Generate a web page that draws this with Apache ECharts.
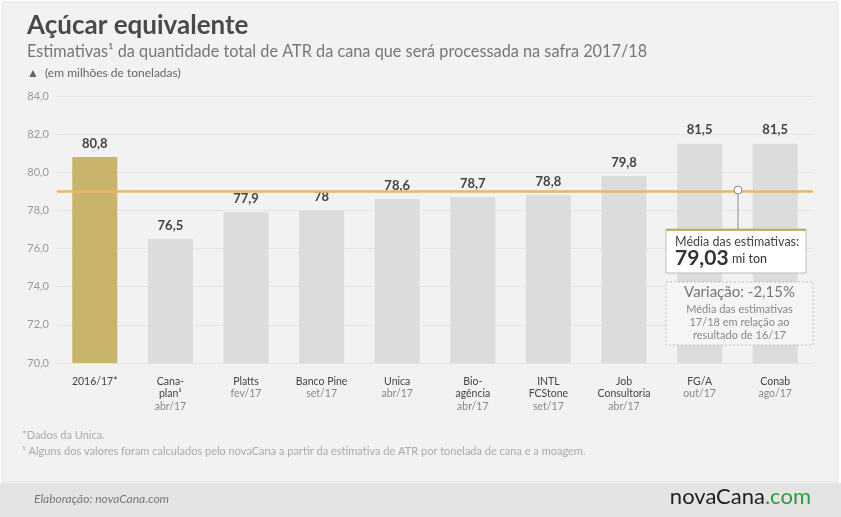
<!DOCTYPE html>
<html>
<head>
<meta charset="utf-8">
<script src="https://cdn.jsdelivr.net/npm/echarts@6/dist/echarts.min.js"></script>
<style>
html,body{margin:0;padding:0;background:#fff;}
#chart{width:841px;height:517px;}
</style>
</head>
<body>
<div id="chart"></div>
<script>
// dados
const nomes = ['2016/17*', 'Cana-\nplan¹', 'Platts', 'Banco Pine', 'Unica', 'Bio-\nagência', 'INTL\nFCStone', 'Job\nConsultoria', 'FG/A', 'Conab'];
const datas = ['', 'abr/17', 'fev/17', 'set/17', 'abr/17', 'abr/17', 'set/17', 'abr/17', 'out/17', 'ago/17'];
const valores = [80.8, 76.5, 77.9, 78, 78.6, 78.7, 78.8, 79.8, 81.5, 81.5];
const rotulos = ['80,8', '76,5', '77,9', '78', '78,6', '78,7', '78,8', '79,8', '81,5', '81,5'];
const media = 79.03;

const font = 'Lato, "Open Sans", sans-serif';
const categorias = nomes.map((n, i) => i);

let myChart = echarts.init(document.getElementById('chart'));
myChart.setOption({
  backgroundColor: '#fff',
  textStyle: {fontFamily: font},
  graphic: [
    {type: 'rect', z: -10, shape: {x: 2, y: 2, width: 836, height: 480}, style: {fill: '#f2f2f2', stroke: '#e2e2e2', lineWidth: 1}},
    {type: 'rect', z: -10, shape: {x: 0, y: 483, width: 841, height: 34}, style: {fill: '#e4e4e4'}},
    {type: 'text', left: 27, top: 13, style: {text: 'Açúcar equivalente', font: 'bold 26px ' + font, fill: '#4a4a4a'}},
    {type: 'text', left: 27, top: 44, style: {text: 'Estimativas¹ da quantidade total de ATR da cana que será processada na safra 2017/18', font: '16.3px ' + font, fill: '#777'}},
    {type: 'text', left: 27, top: 67, style: {text: '▲  (em milhões de toneladas)', font: '12px ' + font, fill: '#666'}},
    {type: 'text', left: 22, top: 430, style: {text: '*Dados da Unica.', font: '11px ' + font, fill: '#aaa'}},
    {type: 'text', left: 22, top: 446, style: {text: '¹ Alguns dos valores foram calculados pelo novaCana a partir da estimativa de ATR por tonelada de cana e a moagem.', font: '11px ' + font, fill: '#aaa'}},
    {type: 'text', left: 34, top: 493, style: {text: 'Elaboração: novaCana.com', font: 'italic 12px ' + font, fill: '#777'}},
    {type: 'text', right: 30, top: 486, style: {rich: {a: {fontSize: 22, fill: '#222', fontFamily: font}, b: {fontSize: 22, fill: '#2a9d3a', fontFamily: font}}, text: '{a|novaCana}{b|.com}'}},
    // anotação da média
    {type: 'line', z: 20, shape: {x1: 738, y1: 192, x2: 738, y2: 229}, style: {stroke: '#888', lineWidth: 1}},
    {type: 'circle', z: 21, shape: {cx: 738, cy: 190, r: 4}, style: {fill: '#fff', stroke: '#888', lineWidth: 1}},
    {type: 'rect', z: 20, shape: {x: 666, y: 229, width: 140, height: 44}, style: {fill: '#fff', stroke: '#bbb', lineWidth: 1}},
    {type: 'rect', z: 21, shape: {x: 666, y: 229, width: 140, height: 2}, style: {fill: '#c4ad6a'}},
    {type: 'text', z: 22, style: {x: 675, y: 235, text: 'Média das estimativas:', font: '12.5px ' + font, fill: '#444'}},
    {type: 'text', z: 22, style: {x: 675, y: 248, rich: {a: {fontSize: 21, fontWeight: 'bold', fill: '#333', fontFamily: font}, b: {fontSize: 12.5, fill: '#333', fontFamily: font}}, text: '{a|79,03} {b|mi ton}'}},
    {type: 'rect', z: 20, shape: {x: 666, y: 282, width: 147, height: 63}, style: {fill: '#f5f5f5', stroke: '#bbb', lineWidth: 1, lineDash: [2, 2]}},
    {type: 'text', z: 22, style: {x: 739.5, y: 285, text: 'Variação: -2,15%', font: '15px ' + font, fill: '#777', align: 'center'}},
    {type: 'text', z: 22, style: {x: 739.5, y: 303, text: 'Média das estimativas\n17/18 em relação ao\nresultado de 16/17', font: '11px ' + font, fill: '#888', align: 'center', lineHeight: 13}}
  ],
  grid: {left: 57, right: 28, top: 96, bottom: 154},
  xAxis: {
    type: 'category',
    data: categorias,
    axisLine: {show: false},
    axisTick: {show: false},
    axisLabel: {
      interval: 0,
      margin: 12,
      verticalAlign: 'top',
      formatter: i => '{n|' + nomes[i].replace('\n', '}\n{n|') + '}' + (datas[i] ? '\n{d|' + datas[i] + '}' : ''),
      rich: {
        n: {fontSize: 10.5, color: '#444', lineHeight: 12.5, fontFamily: font},
        d: {fontSize: 10.5, color: '#888', lineHeight: 12.5, fontFamily: font}
      }
    }
  },
  yAxis: {
    type: 'value', min: 70, max: 84, interval: 2,
    axisLabel: {formatter: v => v.toFixed(1).replace('.', ','), color: '#999', fontSize: 11, margin: 8},
    splitLine: {lineStyle: {color: '#e4e4e4'}},
    axisLine: {show: false}, axisTick: {show: false}
  },
  series: [{
    type: 'bar',
    barWidth: 45,
    data: valores.map((v, i) => ({value: v, itemStyle: {color: i === 0 ? '#c8b46b' : '#dcdcdc'}})),
    label: {show: true, position: 'top', distance: 7, formatter: p => rotulos[p.dataIndex], fontSize: 13, fontWeight: 'bold', color: '#444'},
    markLine: {
      silent: true, symbol: 'none', label: {show: false},
      lineStyle: {color: '#f0b55f', width: 2.5, type: 'solid'},
      data: [{yAxis: media}]
    }
  }]
});
</script>
</body>
</html>
